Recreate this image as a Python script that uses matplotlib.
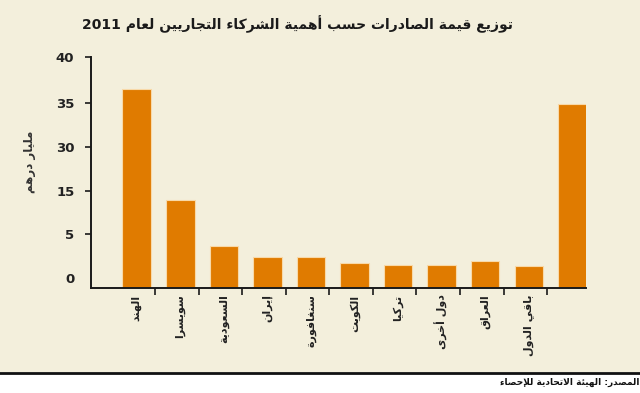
import re

import matplotlib
matplotlib.use("Agg")
import matplotlib.pyplot as plt
from matplotlib.lines import Line2D
from matplotlib.patches import Rectangle
import numpy as np

# --- data ---
title = "توزيع قيمة الصادرات حسب أهمية الشركاء التجاريين لعام 2011"
y_label = "مليار درهم"
source = "المصدر: الهيئة الاتحادية للإحصاء"
countries = ["الهند", "سويسرا", "السعودية", "إيران", "سنغافورة", "الكويت",
             "تركيا", "دول أخرى", "العراق", "باقي الدول", ""]
values = [34.5, 15.15, 7.2, 5.3, 5.3, 4.2, 3.86, 3.86, 4.55, 3.8, 31.8]
tick_labels = ["0", "5", "15", "30", "35", "40"]
tick_values = [1.57, 9.35, 16.8, 24.4, 32.1, 40]

# --- minimal arabic shaping (presentation forms + right-to-left order) ---
forms_table = [("ء", 0xFE80, 1), ("آ", 0xFE81, 2), ("أ", 0xFE83, 2),
               ("ؤ", 0xFE85, 2), ("إ", 0xFE87, 2), ("ئ", 0xFE89, 4),
               ("ا", 0xFE8D, 2), ("ب", 0xFE8F, 4), ("ة", 0xFE93, 2),
               ("ت", 0xFE95, 4), ("ث", 0xFE99, 4), ("ج", 0xFE9D, 4),
               ("ح", 0xFEA1, 4), ("خ", 0xFEA5, 4), ("د", 0xFEA9, 2),
               ("ذ", 0xFEAB, 2), ("ر", 0xFEAD, 2), ("ز", 0xFEAF, 2),
               ("س", 0xFEB1, 4), ("ش", 0xFEB5, 4), ("ص", 0xFEB9, 4),
               ("ض", 0xFEBD, 4), ("ط", 0xFEC1, 4), ("ظ", 0xFEC5, 4),
               ("ع", 0xFEC9, 4), ("غ", 0xFECD, 4), ("ف", 0xFED1, 4),
               ("ق", 0xFED5, 4), ("ك", 0xFED9, 4), ("ل", 0xFEDD, 4),
               ("م", 0xFEE1, 4), ("ن", 0xFEE5, 4), ("ه", 0xFEE9, 4),
               ("و", 0xFEED, 2), ("ى", 0xFEEF, 2), ("ي", 0xFEF1, 4)]
AR = {c: (start, n) for c, start, n in forms_table}
LAM_ALEF = {"آ": 0xFEF5, "أ": 0xFEF7, "إ": 0xFEF9, "ا": 0xFEFB}


def shape_ar(text):
    res = []
    i = 0
    while i < len(text):
        c = text[i]
        if c not in AR:
            res.append(c)
            i += 1
            continue
        prev = text[i-1] if i > 0 else ""
        prev_j = prev in AR and AR[prev][1] == 4
        if c == "ل" and i+1 < len(text) and text[i+1] in LAM_ALEF:
            res.append(chr(LAM_ALEF[text[i+1]] + int(prev_j)))
            i += 2
            continue
        nxt = text[i+1] if i+1 < len(text) else ""
        start, n = AR[c]
        next_j = nxt in AR and AR[nxt][1] > 1
        if n == 4 and prev_j and next_j:
            f = 3
        elif n == 4 and next_j:
            f = 2
        elif prev_j and n >= 2:
            f = 1
        else:
            f = 0
        res.append(chr(start+f))
        i += 1
    s = "".join(res)[::-1]
    return re.sub(r"[0-9]+", lambda m: m.group(0)[::-1], s)


bg = "#F3EFDC"
bar_color = "#E07B00"
plt.rcParams["font.family"] = ["DejaVu Sans"]

fig = plt.figure(figsize=(6.4, 3.93), dpi=100, facecolor=bg)
ax = fig.add_axes([91/640, (393-287.5)/393, (586.3-91)/640, (287.5-57.3)/393])
ax.set_facecolor(bg)

x = np.arange(len(values))
ax.bar(x, values, width=0.654, color=bar_color,
       edgecolor="#F8D9A8", linewidth=0.8)

ax.set_xlim(-1.05, 10.32)
ax.set_ylim(0, 40)
for side in ["top", "right"]:
    ax.spines[side].set_visible(False)
for side in ["left", "bottom"]:
    ax.spines[side].set_linewidth(1.4)
    ax.spines[side].set_color("#1a1a1a")

ax.set_yticks(tick_values)
ax.set_yticklabels(tick_labels, fontsize=9.5, fontweight="bold", color="#222222")
ax.tick_params(axis="y", length=4, width=1.2, pad=8, color="#1a1a1a")
ax.yaxis.get_major_ticks()[0].tick1line.set_visible(False)

ax.set_xticks(x)
ax.set_xticklabels([shape_ar(c) for c in countries], rotation=90,
                   fontsize=8, fontweight="bold", color="#222222", va="top")
ax.tick_params(axis="x", which="major", length=0, pad=5)
ax.set_xticks(np.arange(10) + 0.42, minor=True)
ax.tick_params(axis="x", which="minor", length=5, width=1.2, color="#1a1a1a")

fig.text(29/640, 1 - 162/393, shape_ar(y_label), rotation=90, fontsize=8.5,
         fontweight="bold", color="#333333", ha="center", va="center")
fig.text(298/640, 1 - 24/393, shape_ar(title), fontsize=10,
         fontweight="bold", color="#1a1a1a", ha="center", va="center")

fig.add_artist(Rectangle((0, 0), 1, (393-372)/393, transform=fig.transFigure,
                         facecolor="white", edgecolor="none"))
fig.add_artist(Line2D([0, 1], [(393-372.5)/393]*2, transform=fig.transFigure,
                      color="#111111", linewidth=2))
fig.text(1.0, 1 - 382/393, shape_ar(source), fontsize=6.5, fontweight="bold",
         color="#111111", ha="right", va="center")

fig.savefig("out.png", dpi=100, facecolor=bg)
